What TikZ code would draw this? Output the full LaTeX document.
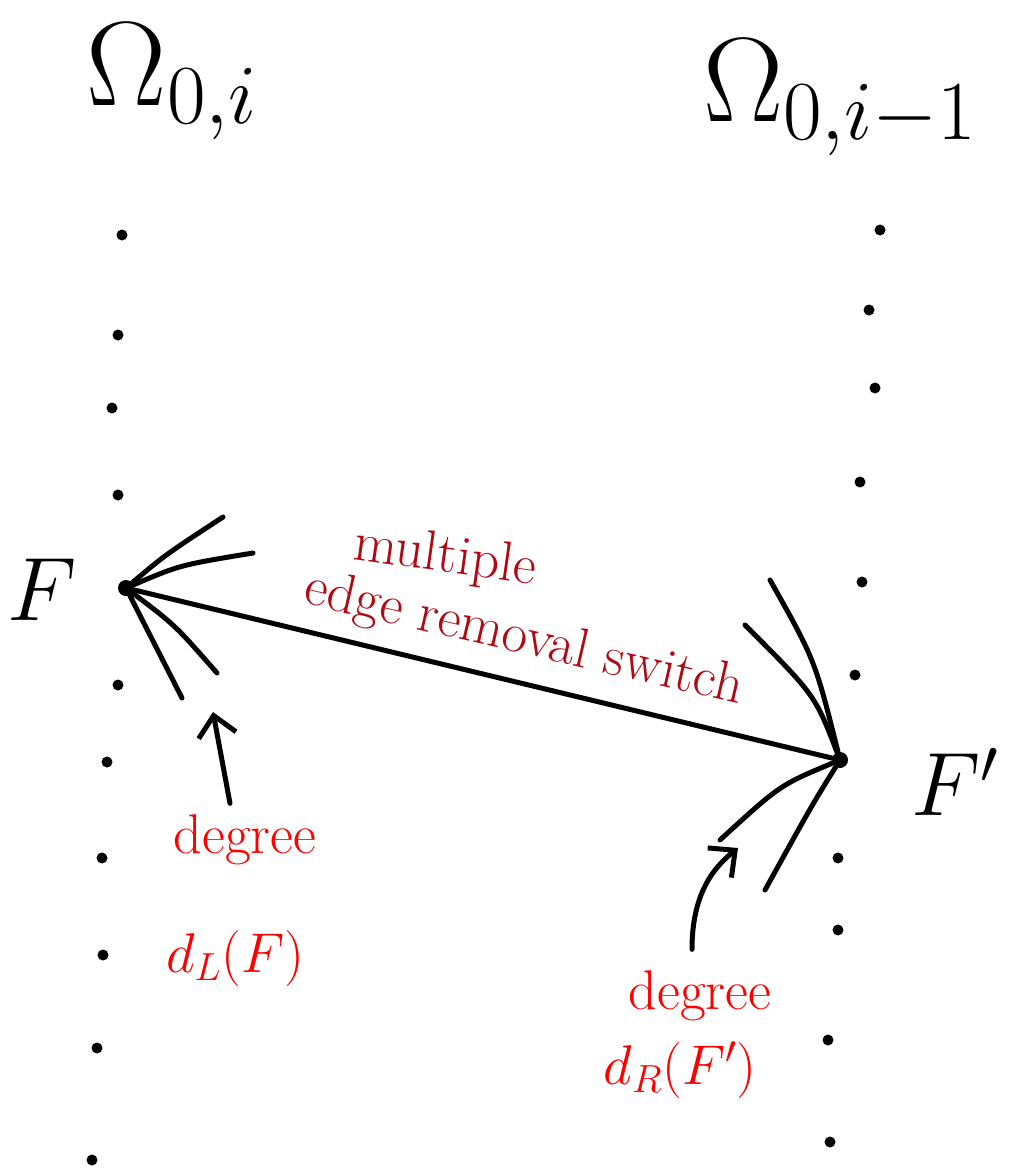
\RequirePackage{fix-cm}
\documentclass[tikz,border=0pt]{standalone}
\usepackage{amsmath,amssymb}
\usepackage{xcolor}
\usepackage{tikz}
\usetikzlibrary{arrows.meta}
\definecolor{swred}{RGB}{175,10,20}

\begin{document}
\begin{tikzpicture}[
  x=1pt, y=-1pt,
  dot/.style={circle, fill=black, inner sep=0pt, minimum size=11pt},
  hub/.style={circle, fill=black, inner sep=0pt, minimum size=16pt},
  ln/.style={line width=5pt, line cap=round},
  arr/.style={-{Straight Barb[length=20pt, width=38pt]}, line width=5pt, line cap=round},
  setlbl/.style={font=\fontsize{120}{124}\selectfont},
  vlbl/.style={font=\fontsize{90}{94}\selectfont},
  note/.style={text=red, font=\fontsize{56}{60}\selectfont},
  swnote/.style={text=swred, font=\fontsize{56}{60}\selectfont, inner sep=1pt}
]
\useasboundingbox (0,0) rectangle (1015,1170);
% the two sides
\node[setlbl] (om) at (172,82) {$\Omega_{0,i}$};
\node[setlbl] (omp) at (840,98) {$\Omega_{0,i-1}$};
\foreach \x/\y [count=\k] in {122/235,118/335,112/408,118/495,118/685,107/762,102/858,103/955,97/1048,92/1160}
  \node[dot] (l\k) at (\x,\y) {};
\foreach \x/\y [count=\k] in {880/230,869/310,875/388,860/482,862/582,855/675,838/858,838/930,828/1040,830/1142}
  \node[dot] (r\k) at (\x,\y) {};
\node[hub] (F) at (126,588) {};
\node[hub] (Fp) at (840,760) {};
\node[vlbl] (Flbl) at (42,590) {$F$};
\node[vlbl] (Fplbl) at (955,782) {$F'$};
% edges at F
\coordinate (a1) at (223,517);
\coordinate (a2) at (253,553);
\coordinate (a3) at (217,673);
\coordinate (a4) at (182,698);
\draw[ln] (F) .. controls (165,555) .. (a1);
\draw[ln] (F) .. controls (180,565) .. (a2);
\draw[ln] (F) .. controls (175,625) .. (a3);
\draw[ln] (F) -- (a4);
% edges at F'
\coordinate (b1) at (770,580);
\coordinate (b2) at (745,625);
\coordinate (b3) at (720,840);
\coordinate (b4) at (765,890);
\draw[ln] (Fp) .. controls (815,660) .. (b1);
\draw[ln] (Fp) .. controls (815,695) .. (b2);
\draw[ln] (Fp) .. controls (780,785) .. (b3);
\draw[ln] (Fp) .. controls (812,805) .. (b4);
% the switch
\draw[ln] (F) -- (Fp);
\node[swnote, rotate=-8] (mult) at (445,558) {multiple};
\node[swnote, rotate=-13] (erem) at (524,640) {edge removal switch};
% degrees
\node[note] (degL) at (245,840) {degree};
\node[note] (dL) at (235,958) {$d_L(F)$};
\node[note] (degR) at (700,996) {degree};
\node[note] (dR) at (680,1070) {$d_R(F')$};
\coordinate (hL) at (213,712);
\coordinate (hR) at (738,848);
\draw[arr] (degL.north) ++(-15,-8) -- (hL);
\draw[arr] (degR.north) ++(-8,-18) .. controls +(0,-55) and +(-25,20) .. (hR);
\end{tikzpicture}
\end{document}
